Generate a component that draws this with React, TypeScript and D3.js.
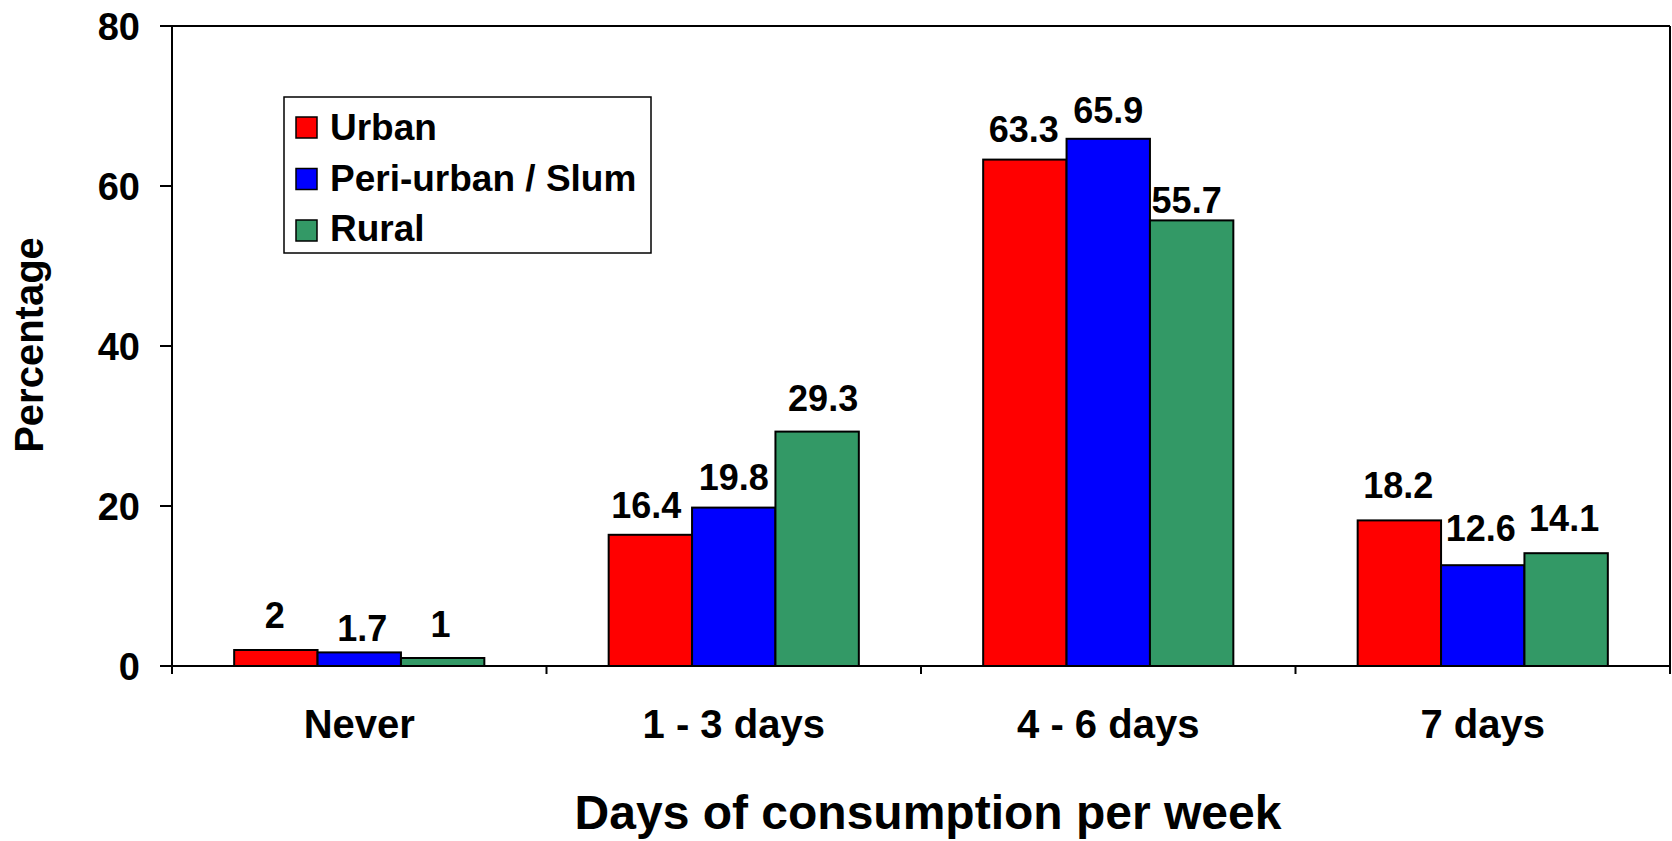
import React from "react";
import * as d3 from "d3";

const categories = ["Never", "1 - 3 days", "4 - 6 days", "7 days"];
const seriesNames = ["Urban", "Peri-urban / Slum", "Rural"];
const urban = [2, 16.4, 63.3, 18.2];
const periUrban = [1.7, 19.8, 65.9, 12.6];
const rural = [1, 29.3, 55.7, 14.1];
const yTicks = [0, 20, 40, 60, 80];
const colors = ["#FF0000", "#0000FF", "#339966"];

// label baseline gap above bar top (px) and horizontal nudge, per series/category
const labelGap = [
  [22, 17, 18, 22],
  [11, 18, 16, 24],
  [21, 21, 7, 22],
];
const labelDx = [
  [-1, -4, -1, -1],
  [3, 0, 0, -2],
  [-2, 6, -5, -2],
];

const W = 1672;
const H = 841;
const left = 172;
const right = 1670;
const top = 26;
const bottom = 666;
const font = "'Liberation Sans', Arial, Helvetica, sans-serif";

export default function App() {
  const values = [urban, periUrban, rural];
  const x = d3.scaleBand<string>().domain(categories).range([left, right]).padding(0);
  const bw = x.bandwidth();
  const inner = d3
    .scaleBand<string>()
    .domain(seriesNames)
    .range([bw * 0.166, bw * 0.834])
    .padding(0);
  const y = d3.scaleLinear().domain([0, 80]).range([bottom, top]);

  const boundaries = [...categories.map((c) => x(c) as number), right];

  return (
    <svg
      width={W}
      height={H}
      style={{ position: "absolute", left: 0, top: 0, background: "#fff" }}
      fontFamily={font}
      fontWeight="bold"
    >
      <rect x={0} y={0} width={W} height={H} fill="#fff" />
      {/* bars */}
      {seriesNames.map((s, si) =>
        categories.map((c, ci) => {
          const v = values[si][ci];
          const bx = (x(c) as number) + (inner(s) as number);
          const by = y(v);
          return (
            <rect
              key={`${si}-${ci}`}
              x={bx}
              y={by}
              width={inner.bandwidth()}
              height={y(0) - by}
              fill={colors[si]}
              stroke="#000"
              strokeWidth={2}
            />
          );
        })
      )}
      {/* data labels */}
      {seriesNames.map((s, si) =>
        categories.map((c, ci) => {
          const v = values[si][ci];
          const cx = (x(c) as number) + (inner(s) as number) + inner.bandwidth() / 2;
          return (
            <text
              key={`l-${si}-${ci}`}
              x={cx + labelDx[si][ci]}
              y={y(v) - labelGap[si][ci]}
              textAnchor="middle"
              fontSize={36}
              fill="#000"
            >
              {String(v)}
            </text>
          );
        })
      )}
      {/* plot border top and right */}
      <line x1={left - 12} x2={right} y1={top} y2={top} stroke="#000" strokeWidth={2} />
      <line x1={right} x2={right} y1={top} y2={bottom + 8} stroke="#000" strokeWidth={2} />
      {/* y axis */}
      <line x1={left} x2={left} y1={top} y2={bottom + 8} stroke="#000" strokeWidth={2} />
      {yTicks.map((t) => (
        <g key={`yt-${t}`}>
          <line x1={left - 12} x2={left} y1={y(t)} y2={y(t)} stroke="#000" strokeWidth={2} />
          <text
            x={140}
            y={y(t)}
            dy="0.36em"
            textAnchor="end"
            fontSize={38}
            fill="#000"
          >
            {t}
          </text>
        </g>
      ))}
      {/* x axis */}
      <line x1={left - 12} x2={right} y1={bottom} y2={bottom} stroke="#000" strokeWidth={2} />
      {boundaries.map((b, i) => (
        <line key={`xt-${i}`} x1={b} x2={b} y1={bottom} y2={bottom + 8} stroke="#000" strokeWidth={2} />
      ))}
      {categories.map((c) => (
        <text
          key={`xl-${c}`}
          x={(x(c) as number) + bw / 2}
          y={738}
          textAnchor="middle"
          fontSize={40}
          fill="#000"
        >
          {c}
        </text>
      ))}
      {/* axis titles */}
      <text x={928} y={829} textAnchor="middle" fontSize={48} fill="#000">
        Days of consumption per week
      </text>
      <text
        transform="translate(43,345) rotate(-90)"
        textAnchor="middle"
        fontSize={40}
        fill="#000"
      >
        Percentage
      </text>
      {/* legend */}
      <rect x={284} y={97} width={367} height={156} fill="#fff" stroke="#000" strokeWidth={1.5} />
      {seriesNames.map((s, i) => (
        <g key={`lg-${s}`}>
          <rect
            x={296}
            y={117 + i * 51.5}
            width={21}
            height={21}
            fill={colors[i]}
            stroke="#000"
            strokeWidth={1.5}
          />
          <text x={330} y={140 + i * 50.5} fontSize={37} fill="#000">
            {s}
          </text>
        </g>
      ))}
    </svg>
  );
}
